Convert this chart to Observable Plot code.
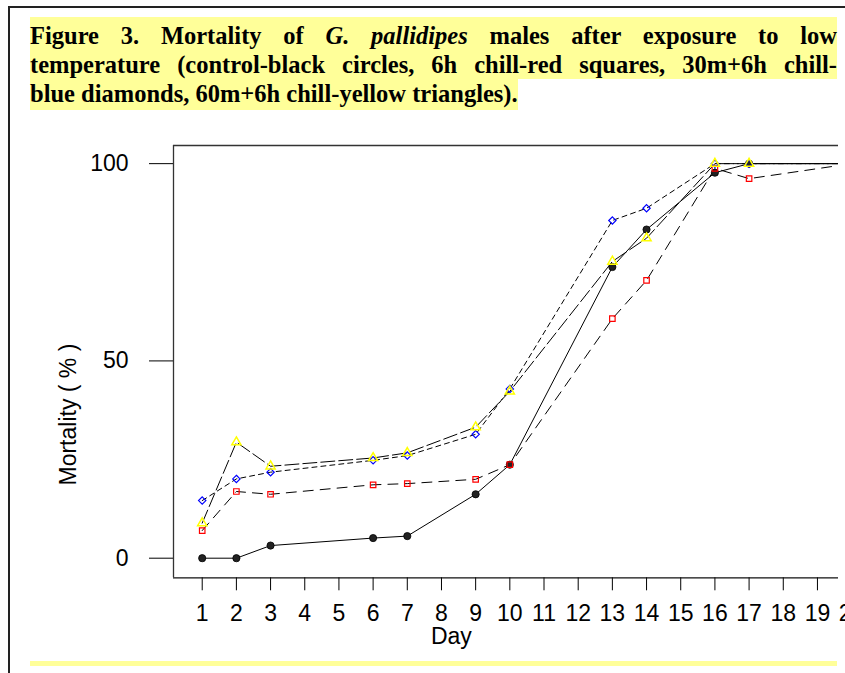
<!DOCTYPE html>
<html>
<head>
<meta charset="utf-8">
<script src="https://cdn.jsdelivr.net/npm/d3@7"></script>
<script src="https://cdn.jsdelivr.net/npm/@observablehq/plot@0.6"></script>
<style>
html, body { margin: 0; padding: 0; background: #fff; width: 845px; height: 673px; overflow: hidden; }
#page { position: relative; width: 845px; height: 673px; overflow: hidden; }
#frameL { position: absolute; left: 8px; top: 6px; width: 2px; height: 667px; background: #222; }
#frameT { position: absolute; left: 8px; top: 6px; width: 837px; height: 2px; background: #222; }
#title { position: absolute; left: 30px; top: 17px; width: 807px;
  font-family: "Liberation Serif", "Times New Roman", serif; font-weight: bold; font-size: 24.5px; color: #000; }
.ln { background: #ffff99; height: 29px; line-height: 29px; text-align: justify; text-align-last: justify; white-space: normal; }
.ln1 { padding-top: 4px; }
.ln3 { line-height: 29px; }
.ln3 span { display: inline-block; background: #ffff99; padding-bottom: 2px; line-height: 29px; }
#bottomBar { position: absolute; left: 30px; top: 661px; width: 807px; height: 5px; background: #ffff99; }
#chart { position: absolute; left: 0; top: 120px; width: 870px; height: 553px; }
</style>
</head>
<body>
<div id="page">
  <div id="frameT"></div>
  <div id="frameL"></div>
  <div id="title">
    <div class="ln ln1">Figure 3. Mortality of <i>G. pallidipes</i> males after exposure to low</div>
    <div class="ln">temperature (control-black circles, 6h chill-red squares, 30m+6h chill-</div>
    <div class="ln3"><span>blue diamonds, 60m+6h chill-yellow triangles).</span></div>
  </div>
  <div id="chart"></div>
  <div id="bottomBar"></div>
</div>
<script>
// Data
const days = [1, 2, 3, 6, 7, 9, 10, 13, 14, 16, 17, 20];
const control   = [0, 0, 3.2, 5.1, 5.6, 16.2, 23.7, 73.8, 83.3, 97.7, 100, 100];
const chill6h   = [7.0, 16.9, 16.2, 18.6, 18.9, 20.0, 23.7, 60.7, 70.4, 98.8, 96.2, 100];
const chill30m  = [14.6, 20.1, 21.8, 24.8, 26.0, 31.4, 42.9, 85.6, 88.7, 100, 100, 100];
const chill60m  = [8.9, 29.4, 23.3, 25.4, 26.7, 33.2, 42.3, 75.2, 81.1, 100, 100, 100];
const xTicks = d3.range(1, 21);
const yTicks = [0, 50, 100];
const xLabel = "Day";
const yLabel = "Mortality ( % )";

const toRows = (vals) => days.map((d, i) => ({day: d, v: vals[i]}));
const rControl = toRows(control);
const r6h = toRows(chill6h);
const r30 = toRows(chill30m);
const r60 = toRows(chill60m);

const xDomain = [0.16, 19.616];
const yDomain = [-4.97, 104.6];

const chart = Plot.plot({
  width: 870,
  height: 553,
  marginLeft: 173,
  marginRight: 32,
  marginTop: 25,
  marginBottom: 95.7,
  style: { fontFamily: "'Liberation Sans', Arial, sans-serif", fontSize: "23px", background: "transparent", maxWidth: "none", overflow: "visible" },
  x: { domain: xDomain, ticks: xTicks, tickSize: 13, tickPadding: 14, label: null, tickFormat: d => String(d) },
  y: { domain: yDomain, ticks: yTicks, tickSize: 24, tickPadding: 21, label: null, tickFormat: d => String(d) },
  marks: [
    Plot.ruleY([yDomain[1]], { stroke: "#333", strokeWidth: 1.3 }),
    Plot.ruleY([yDomain[0]], { stroke: "#111", strokeWidth: 1.3 }),
    Plot.ruleX([xDomain[0]], { stroke: "#333", strokeWidth: 1.3 }),
    Plot.line(r6h, { x: "day", y: "v", stroke: "#000", strokeWidth: 1, strokeDasharray: "10,7", clip: true }),
    Plot.line(r30, { x: "day", y: "v", stroke: "#000", strokeWidth: 1, strokeDasharray: "5,4", clip: true }),
    Plot.line(r60, { x: "day", y: "v", stroke: "#000", strokeWidth: 1, strokeDasharray: "14,4", clip: true }),
    Plot.line(rControl, { x: "day", y: "v", stroke: "#000", strokeWidth: 1, clip: true }),
    Plot.dot(rControl, { x: "day", y: "v", symbol: "circle", r: 3.6, fill: "#222", stroke: "#000", strokeWidth: 0.8, clip: true }),
    Plot.dot(r6h, { x: "day", y: "v", symbol: "square", r: 3.1, fill: "none", stroke: "#ff0000", strokeWidth: 1.2, clip: true }),
    Plot.dot(r30, { x: "day", y: "v", symbol: "diamond2", r: 3.3, fill: "none", stroke: "#0000ff", strokeWidth: 1.2, clip: true }),
    Plot.dot(r60, { x: "day", y: "v", symbol: "triangle", r: 3.4, fill: "none", stroke: "#ffff00", strokeWidth: 1.5, clip: true }),
    Plot.text([xLabel], { text: d => d, x: 8.29, frameAnchor: "bottom", dy: 66, fontSize: 23, textAnchor: "middle" }),
    Plot.text([yLabel], { text: d => d, y: 36.4, frameAnchor: "left", dx: -105, rotate: -90, fontSize: 23, textAnchor: "middle" })
  ]
});
document.getElementById("chart").appendChild(chart);
</script>
</body>
</html>
